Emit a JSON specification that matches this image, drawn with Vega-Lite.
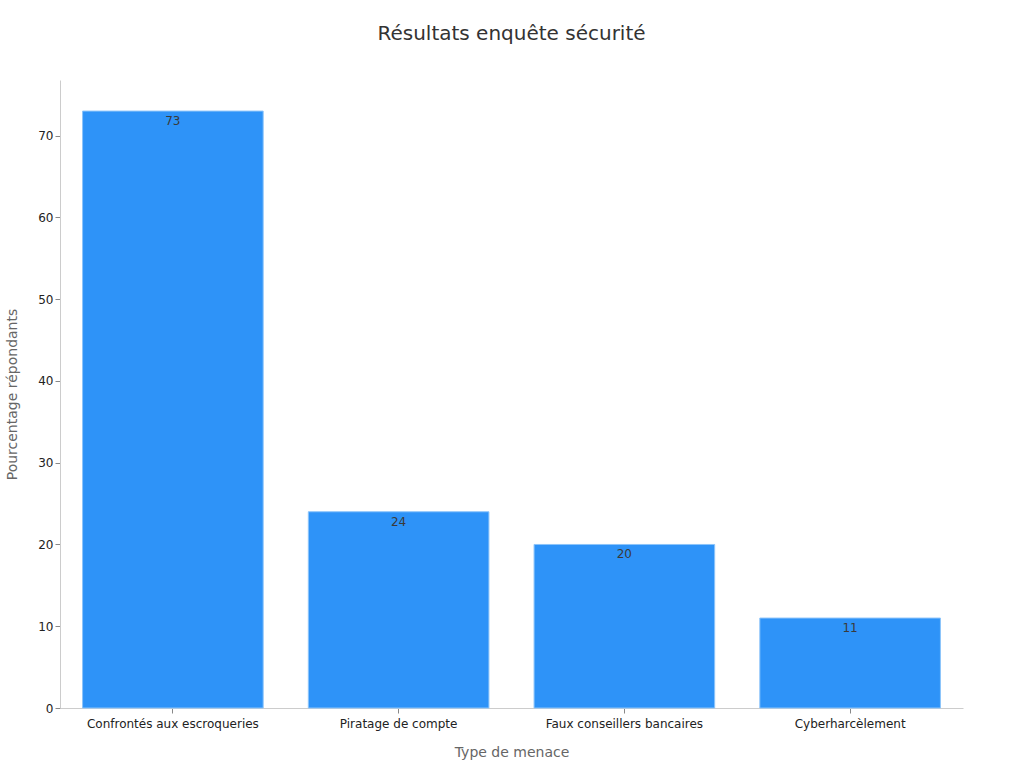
{
  "$schema": "https://vega.github.io/schema/vega-lite/v6.json",
  "autosize": {"type": "none"},
  "padding": {"left": 60, "top": 80, "right": 61, "bottom": 60},
  "width": 903,
  "height": 628,
  "background": "white",
  "title": {
    "text": "Résultats enquête sécurité",
    "font": "DejaVu Sans",
    "fontSize": 20,
    "fontWeight": "normal",
    "color": "#333333",
    "anchor": "middle",
    "offset": 36
  },
  "config": {
    "view": {"stroke": null},
    "font": "DejaVu Sans",
    "axis": {
      "labelFont": "DejaVu Sans",
      "titleFont": "DejaVu Sans",
      "labelFontSize": 12,
      "labelColor": "#222222",
      "titleFontSize": 14,
      "titleFontWeight": "normal",
      "titleColor": "#666666",
      "domainColor": "#cccccc",
      "tickColor": "#888888",
      "grid": false
    }
  },
  "data": {
    "values": [
      {"menace": "Confrontés aux escroqueries", "pct": 73},
      {"menace": "Piratage de compte", "pct": 24},
      {"menace": "Faux conseillers bancaires", "pct": 20},
      {"menace": "Cyberharcèlement", "pct": 11}
    ]
  },
  "encoding": {
    "x": {
      "field": "menace",
      "type": "nominal",
      "sort": null,
      "scale": {"paddingInner": 0.2, "paddingOuter": 0.1},
      "axis": {"title": "Type de menace", "labelAngle": 0, "titlePadding": 16, "labelPadding": 5}
    },
    "y": {
      "field": "pct",
      "type": "quantitative",
      "scale": {"domain": [0, 76.8], "nice": false},
      "axis": {"title": "Pourcentage répondants", "values": [0, 10, 20, 30, 40, 50, 60, 70], "titlePadding": 18, "domain": true}
    }
  },
  "layer": [
    {
      "mark": {"type": "bar", "color": "#2E93F8", "stroke": "#8CC4FA", "strokeWidth": 1}
    },
    {
      "mark": {"type": "text", "baseline": "top", "dy": 5, "fontSize": 12, "color": "#3a3a3a"},
      "encoding": {"text": {"field": "pct", "type": "quantitative"}}
    }
  ]
}
